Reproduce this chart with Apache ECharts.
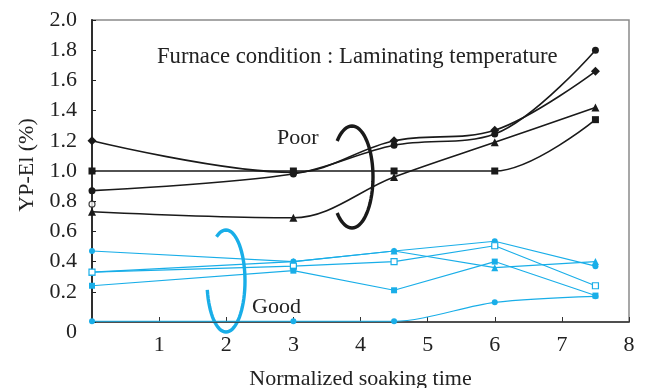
<!DOCTYPE html>
<html>
<head>
<meta charset="utf-8">
<script src="https://cdn.jsdelivr.net/npm/echarts@6/dist/echarts.min.js"></script>
<style>
  html, body { margin: 0; padding: 0; background: #fff; }
  #chart { width: 645px; height: 388px; }
</style>
</head>
<body>
<div id="chart"></div>
<script>
// soaking time (normalized)
const soakTimes = [0, 3, 4.5, 6, 7.5];

// Poor group (black)
const poorDiamond = [1.20, 0.99, 1.20, 1.27, 1.66];
const poorCircle = [0.87, 0.98, 1.17, 1.245, 1.80];
const poorTriangle = [0.73, 0.69, 0.96, 1.19, 1.42];
const poorSquare = [1.00, 1.00, 1.00, 1.00, 1.34];
const poorOpenX = [0];
const poorOpen = [0.78];

// Good group (blue)
const goodCircle = [0.47, 0.40, 0.47, 0.535, 0.37];
const goodTriangle = [0.33, 0.40, 0.47, 0.36, 0.40];
const goodOpenSquare = [0.33, 0.37, 0.40, 0.505, 0.24];
const goodSquare = [0.24, 0.34, 0.21, 0.40, 0.175];
const goodZero = [0.005, 0.005, 0.005, 0.13, 0.17];

const FONT = '"Liberation Serif", "Times New Roman", serif';
const BLACK = '#1a1a1a';
const BLUE = '#19aee8';

const pairs = (xs, ys) => xs.map((x, i) => [x, ys[i]]);

// open ellipse stroke used as a group marker (pixel space, decoration only)
function ellipseArc(cx, cy, rx, ry, fromDeg, toDeg) {
  const pts = [];
  for (let a = fromDeg; a <= toDeg; a += 5) {
    const t = a * Math.PI / 180;
    pts.push([cx + rx * Math.cos(t), cy + ry * Math.sin(t)]);
  }
  return pts;
}

function poorLine(data, symbol, size) {
  return {
    type: 'line', data: pairs(soakTimes, data), smooth: 0.35,
    symbol: symbol, symbolSize: size,
    lineStyle: { color: BLACK, width: 1.6 },
    itemStyle: { color: BLACK }
  };
}

function goodLine(data, symbol, size, open) {
  return {
    type: 'line', data: pairs(soakTimes, data),
    symbol: symbol, symbolSize: size,
    lineStyle: { color: BLUE, width: 1.1 },
    itemStyle: open ? { color: '#fff', borderColor: BLUE, borderWidth: 1.2 } : { color: BLUE }
  };
}

const chart = echarts.init(document.getElementById('chart'));

const option = {
  animation: false,
  grid: { left: 92, right: 16, top: 20, bottom: 66, show: true, borderColor: '#8a8a8a', borderWidth: 1.5, outerBoundsMode: 'none' },
  xAxis: {
    type: 'value', min: 0, max: 8, interval: 1,
    name: 'Normalized soaking time', nameLocation: 'middle', nameGap: 46,
    nameTextStyle: { fontFamily: FONT, fontSize: 22, color: '#222' },
    axisLine: { show: true, lineStyle: { color: '#333', width: 1.6 } },
    axisTick: { show: true, inside: true, length: 5, lineStyle: { color: '#333' } },
    axisLabel: {
      fontFamily: FONT, fontSize: 22, color: '#222', margin: 12,
      formatter: v => (v === 0 ? '' : String(v))
    },
    splitLine: { show: false }
  },
  yAxis: {
    type: 'value', min: 0, max: 2, interval: 0.2,
    name: 'YP-El (%)', nameLocation: 'middle', nameGap: 47, nameRotate: 90,
    nameTextStyle: { fontFamily: FONT, fontSize: 22, color: '#222', padding: [0, 0, 0, 12] },
    axisLine: { show: true, lineStyle: { color: '#222', width: 1.8 } },
    axisTick: { show: true, inside: true, length: 4, lineStyle: { color: '#222' } },
    axisLabel: {
      fontFamily: FONT, fontSize: 22, color: '#222', margin: 15,
      formatter: v => (v === 0 ? '{z|0}' : v.toFixed(1)),
      rich: { z: { fontFamily: FONT, fontSize: 22, color: '#222', padding: [20, 0, 0, 0] } }
    },
    splitLine: { show: false }
  },
  series: [
    poorLine(poorDiamond, 'diamond', 9),
    poorLine(poorCircle, 'circle', 7),
    poorLine(poorTriangle, 'triangle', 8),
    poorLine(poorSquare, 'rect', 7),
    {
      type: 'scatter', data: pairs(poorOpenX, poorOpen),
      symbol: 'circle', symbolSize: 6,
      itemStyle: { color: '#fff', borderColor: BLACK, borderWidth: 1.2 }
    },
    goodLine(goodCircle, 'circle', 6),
    goodLine(goodTriangle, 'triangle', 7),
    goodLine(goodOpenSquare, 'rect', 6, true),
    goodLine(goodSquare, 'rect', 6),
    Object.assign(goodLine(goodZero, 'circle', 6), { smooth: 0.3 })
  ],
  graphic: [
    { type: 'text', left: 157, top: 46, style: { text: 'Furnace condition : Laminating temperature', font: '22.7px ' + FONT, fill: '#222' } },
    { type: 'text', left: 277, top: 127, style: { text: 'Poor', font: '22px ' + FONT, fill: '#222' } },
    { type: 'text', left: 252, top: 296, style: { text: 'Good', font: '22px ' + FONT, fill: '#222' } },
    { type: 'polyline', shape: { points: ellipseArc(352, 177, 21, 51, -135, 135) }, style: { fill: null, stroke: BLACK, lineWidth: 3.4 } },
    { type: 'polyline', shape: { points: ellipseArc(226, 281, 19, 51, -120, 172) }, style: { fill: null, stroke: BLUE, lineWidth: 3.4 } }
  ]
};

chart.setOption(option);
</script>
</body>
</html>
